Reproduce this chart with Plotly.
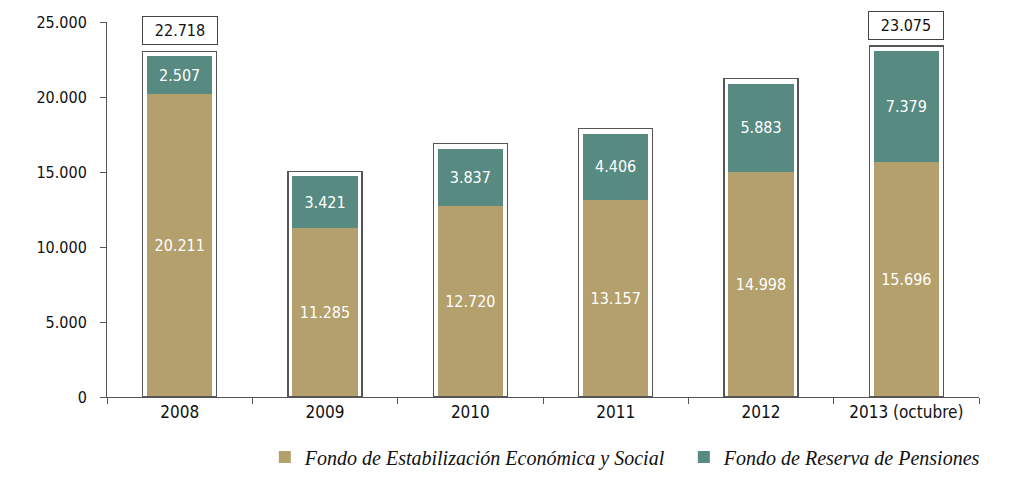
import plotly.graph_objects as go

years = ["2008", "2009", "2010", "2011", "2012", "2013 (octubre)"]
fees = [20211, 11285, 12720, 13157, 14998, 15696]
frp = [2507, 3421, 3837, 4406, 5883, 7379]
totals = [22718, 14706, 16557, 17563, 20881, 23075]
labeled_years = ["2008", "2013 (octubre)"]
labeled_totals = [22718, 23075]
y_ticks = [0, 5000, 10000, 15000, 20000, 25000]

def fmt(v):
    return f"{v:,}".replace(",", ".")

TAN = "#B3A06C"
GREEN = "#578A80"
NUM_FONT = "DejaVu Sans Condensed"
PAD = 333  # visual padding of outline box above stack (style)

fig = go.Figure()
fig.add_trace(go.Bar(
    x=years, y=fees, name="Fondo de Estabilización Económica y Social",
    marker=dict(color=TAN, line=dict(width=0)), width=0.45,
    text=[fmt(v) for v in fees], textposition="inside", insidetextanchor="middle",
    textfont=dict(color="white", size=16, family=NUM_FONT),
))
fig.add_trace(go.Bar(
    x=years, y=frp, name="Fondo de Reserva de Pensiones",
    marker=dict(color=GREEN, line=dict(width=0)), width=0.45,
    text=[fmt(v) for v in frp], textposition="inside", insidetextanchor="middle",
    textfont=dict(color="white", size=16, family=NUM_FONT),
))
fig.add_trace(go.Bar(
    x=years, y=[t + PAD for t in totals], xaxis="x2", showlegend=False,
    marker=dict(color="rgba(0,0,0,0)", line=dict(color="#555555", width=1.3)),
    width=0.51, hoverinfo="skip",
))

for yr, t in zip(labeled_years, labeled_totals):
    fig.add_annotation(
        x=years.index(yr), y=t + PAD, xref="x", yref="y", text=fmt(t), showarrow=False,
        yanchor="bottom", yshift=6, font=dict(size=16, family=NUM_FONT, color="#111"),
        bordercolor="#444", borderwidth=1, borderpad=4, bgcolor="white", width=66,
    )

fig.update_layout(
    barmode="stack", width=1024, height=483,
    margin=dict(l=107, r=45, t=22, b=86, autoexpand=False),
    plot_bgcolor="white", paper_bgcolor="white",
    font=dict(family=NUM_FONT, size=15, color="#111"),
    xaxis=dict(
        type="category",
        range=[-0.5, 5.5], showline=True, linecolor="#555", linewidth=1,
        ticks="outside", tickson="boundaries", ticklen=6, tickcolor="#555",
        tickfont=dict(size=17, family=NUM_FONT), showgrid=False,
    ),
    xaxis2=dict(type="category", overlaying="x", matches="x", visible=False, range=[-0.5, 5.5]),
    yaxis=dict(
        range=[0, 25000], showline=True, linecolor="#555", linewidth=1,
        ticks="outside", ticklen=6, tickcolor="#555", showgrid=False, zeroline=False,
        tickvals=y_ticks, ticktext=[fmt(v) for v in y_ticks],
        tickfont=dict(size=16, family=NUM_FONT), ticklabelstandoff=10,
    ),
    legend=dict(
        orientation="h", x=0.181, xanchor="left", y=-0.16, yanchor="middle",
        font=dict(family="Liberation Serif", size=20, color="#111", style="italic"),
        itemsizing="constant", traceorder="normal",
        entrywidth=374, entrywidthmode="pixels",
    ),
    showlegend=True,
)

fig.write_html("out.html", config={"displayModeBar": False},
               post_script="document.body.style.margin='0';")
